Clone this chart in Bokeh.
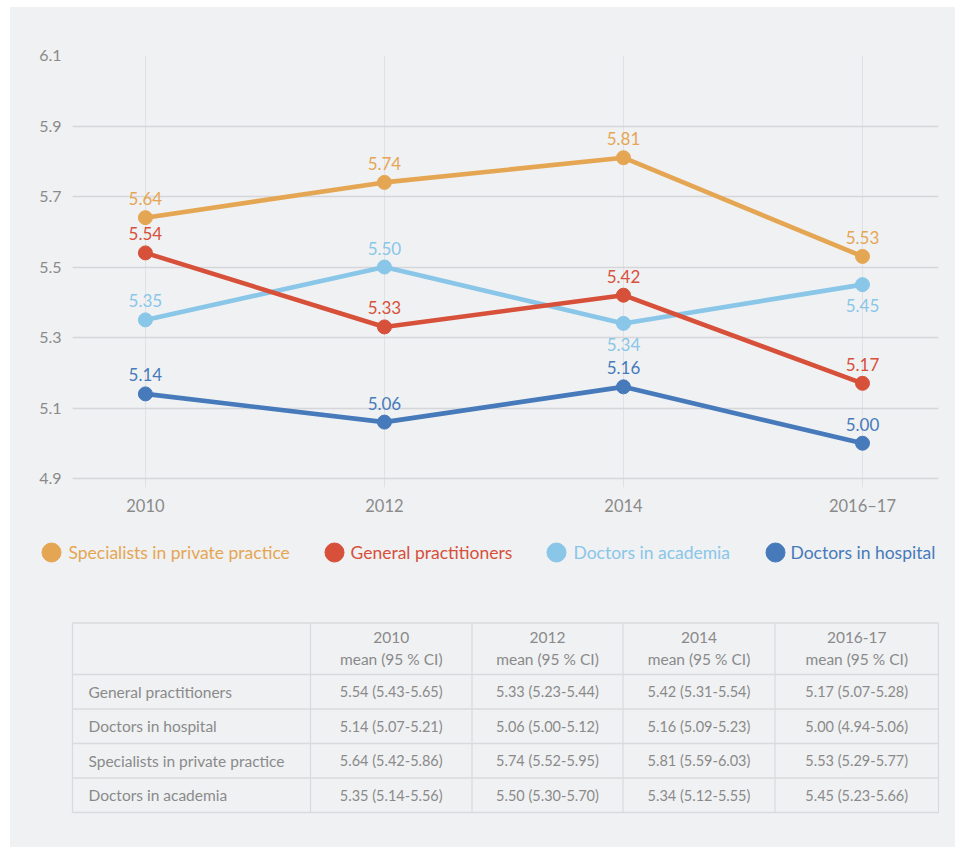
from bokeh.plotting import figure
from bokeh.layouts import column
from bokeh.models import Range1d, FixedTicker, NumeralTickFormatter, ColumnDataSource
from bokeh.core.properties import value
from bokeh.embed import file_html
from bokeh.resources import INLINE

# ---------------- data ----------------
years = ["2010", "2012", "2014", "2016–17"]
table_years = ["2010", "2012", "2014", "2016-17"]
y_ticks = [4.9, 5.1, 5.3, 5.5, 5.7, 5.9, 6.1]

legend_names = ["Specialists in private practice", "General practitioners",
                "Doctors in academia", "Doctors in hospital"]

specialists = [5.64, 5.74, 5.81, 5.53]
general = [5.54, 5.33, 5.42, 5.17]
academia = [5.35, 5.50, 5.34, 5.45]
hospital = [5.14, 5.06, 5.16, 5.00]

specialists_lo = [5.42, 5.52, 5.59, 5.29]
specialists_hi = [5.86, 5.95, 6.03, 5.77]
general_lo = [5.43, 5.23, 5.31, 5.07]
general_hi = [5.65, 5.44, 5.54, 5.28]
academia_lo = [5.14, 5.30, 5.12, 5.23]
academia_hi = [5.56, 5.70, 5.55, 5.66]
hospital_lo = [5.07, 5.00, 5.09, 4.94]
hospital_hi = [5.21, 5.12, 5.23, 5.06]

table_rows = ["General practitioners", "Doctors in hospital",
              "Specialists in private practice", "Doctors in academia"]

# ---------------- style ----------------
BG = "#f0f1f3"
GRAY = "#8a8a8a"
FONT = "Lato"
C_SPEC = "#e5a653"
C_GP = "#d6503a"
C_ACAD = "#89c6e8"
C_HOSP = "#467aba"

series = {
    "Specialists in private practice": (specialists, specialists_lo, specialists_hi, C_SPEC, ["a", "a", "a", "a"]),
    "General practitioners": (general, general_lo, general_hi, C_GP, ["a", "a", "a", "a"]),
    "Doctors in academia": (academia, academia_lo, academia_hi, C_ACAD, ["a", "a", "b", "b"]),
    "Doctors in hospital": (hospital, hospital_lo, hospital_hi, C_HOSP, ["a", "a", "a", "a"]),
}
draw_order = ["Doctors in academia", "Specialists in private practice",
              "General practitioners", "Doctors in hospital"]

# page geometry: figures start at page x=10, chart at y=7
W = 945
H1 = 520
H2 = 320

# ---------------- chart ----------------
p = figure(width=W, height=H1,
           x_range=Range1d(-0.305, 3.318), y_range=Range1d(4.8745, 6.1),
           output_backend="svg", toolbar_location=None,
           min_border_left=62, min_border_right=17, min_border_top=48, min_border_bottom=40,
           background_fill_color=BG, border_fill_color=BG, outline_line_color=None)
p.frame_align = False

p.xaxis.ticker = FixedTicker(ticks=list(range(len(years))))
p.xaxis.major_label_overrides = {i: y for i, y in enumerate(years)}
p.yaxis.ticker = FixedTicker(ticks=y_ticks)
p.yaxis.formatter = NumeralTickFormatter(format="0.0")
for ax in (p.xaxis[0], p.yaxis[0]):
    ax.axis_line_color = None
    ax.major_tick_line_color = None
    ax.minor_tick_line_color = None
    ax.major_tick_out = 0
    ax.major_tick_in = 0
    ax.minor_tick_out = 0
    ax.major_label_text_font = FONT
    ax.major_label_text_font_size = "16px"
    ax.major_label_text_color = GRAY
p.xaxis.major_label_text_font_size = "16.5px"
p.xaxis.major_label_standoff = 8
p.yaxis.major_label_standoff = 11

p.ygrid.ticker = FixedTicker(ticks=y_ticks)
p.ygrid.grid_line_color = "#d5d6d9"
p.ygrid.grid_line_width = 1.5
p.xgrid.ticker = FixedTicker(ticks=list(range(len(years))))
p.xgrid.grid_line_color = "#e0e1e4"
p.xgrid.grid_line_width = 1

xs = list(range(len(years)))
for name in draw_order:
    vals, lo, hi, col, side = series[name]
    p.line(xs, vals, line_color=col, line_width=4.6)
    p.scatter(xs, vals, size=14, fill_color=col, line_color=col)
    src = ColumnDataSource(dict(
        x=xs, y=vals, t=[f"{v:.2f}" for v in vals],
        off=[-19 if s == "a" else 21 for s in side]))
    p.text(x="x", y="y", text="t", y_offset="off", source=src,
           text_align="center", text_baseline="middle",
           text_font=value(FONT), text_font_size="17px", text_color=col)

# ---------------- legend + table (page-pixel coordinates) ----------------
t = figure(width=W, height=H2,
           x_range=Range1d(10, 10 + W), y_range=Range1d(7 + H1 + H2, 7 + H1),
           output_backend="svg", toolbar_location=None,
           x_axis_location=None, y_axis_location=None,
           min_border_left=0, min_border_right=0, min_border_top=0, min_border_bottom=0,
           background_fill_color=BG, border_fill_color=BG, outline_line_color=None)
t.frame_align = False
t.grid.visible = False

# legend
leg_circle_x = [51, 334, 556, 775]
leg_text_x = [68, 350, 573, 790]
leg_y = 552
leg_colors = [series[n][3] for n in legend_names]
t.scatter(leg_circle_x, [leg_y] * 4, size=19, fill_color=leg_colors, line_color=leg_colors)
t.text(x=leg_text_x, y=[leg_y] * 4, text=legend_names, text_color=leg_colors,
       text_align="left", text_baseline="middle",
       text_font=value(FONT), text_font_size="17.5px")

# table grid
col_edges = [72, 310, 471.5, 622.5, 774.5, 938]
row_edges = [622.5, 674, 708.5, 743, 777.5, 812]
BORDER = "#d9dadd"
t.segment(x0=[col_edges[0]] * len(row_edges), x1=[col_edges[-1]] * len(row_edges),
          y0=row_edges, y1=row_edges, line_color=BORDER, line_width=1.5)
t.segment(x0=col_edges, x1=col_edges, y0=[row_edges[0]] * len(col_edges),
          y1=[row_edges[-1]] * len(col_edges), line_color=BORDER, line_width=1.2)

TFS = "15.5px"
col_centers = [(col_edges[i] + col_edges[i + 1]) / 2 for i in range(1, len(col_edges) - 1)]
t.text(x=col_centers, y=[637] * 4, text=table_years, text_align="center", text_baseline="middle",
       text_font=value(FONT), text_font_size=TFS, text_color=GRAY)
t.text(x=col_centers, y=[658] * 4, text=["mean (95 % CI)"] * 4, text_align="center",
       text_baseline="middle", text_font=value(FONT), text_font_size=TFS, text_color=GRAY)

row_centers = [(row_edges[i] + row_edges[i + 1]) / 2 for i in range(1, len(row_edges) - 1)]
t.text(x=[88] * len(table_rows), y=row_centers, text=table_rows, text_align="left",
       text_baseline="middle", text_font=value(FONT), text_font_size=TFS, text_color=GRAY)

cx, cy, ct = [], [], []
for r, name in enumerate(table_rows):
    vals, lo, hi, col, side = series[name]
    for c in range(len(table_years)):
        cx.append(col_centers[c])
        cy.append(row_centers[r])
        ct.append(f"{vals[c]:.2f} ({lo[c]:.2f}-{hi[c]:.2f})")
t.text(x=cx, y=cy, text=ct, text_align="center", text_baseline="middle",
       text_font=value(FONT), text_font_size="14.5px", text_color=GRAY)

layout = column(p, t, spacing=0, margin=(7, 0, 0, 10), styles={"background-color": BG})
open("out.html", "w").write(file_html(layout, INLINE))
